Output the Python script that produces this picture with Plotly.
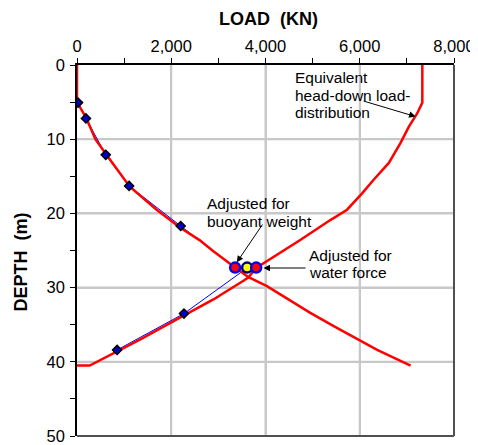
import plotly.graph_objects as go

# ---- data ----
# Red curve A: load distribution from pile head (drag load) continuing below neutral plane
curveA_load = [0, 0, 200, 390, 625, 1120, 1690, 2185, 2600, 2894, 3355, 3640, 4030, 4383, 4596, 4951, 5447, 6015, 6370, 7079]
curveA_depth = [0, 5.0, 7.2, 10.0, 12.1, 16.4, 19.5, 21.9, 23.6, 25.1, 27.3, 28.6, 29.8, 31.2, 32.1, 33.4, 35.2, 37.2, 38.4, 40.5]

# Red curve B: equivalent head-down load distribution (resistance from toe)
curveB_load = [7328, 7328, 7221, 7043, 6866, 6617, 6290, 6050, 5730, 5376, 4745, 3802, 3640, 3532, 2894, 2270, 1972, 1334, 851, 270, 0]
curveB_depth = [0, 5.07, 6.5, 8.3, 10.5, 13.2, 15.5, 17.3, 19.5, 20.9, 23.55, 27.35, 28.6, 29.07, 31.6, 33.7, 34.8, 37.0, 38.6, 40.5, 40.5]

# Blue measured points (upper and lower)
upper_load = [21, 190, 610, 1106, 2200, 3355]
upper_depth = [5.07, 7.2, 12.1, 16.3, 21.7, 27.3]
lower_load = [851, 2270, 3610]
lower_depth = [38.4, 33.5, 27.35]

# Neutral plane markers
np_load = [3355, 3610, 3802]
np_depth = [27.3, 27.3, 27.3]

x_ticks = [0, 2000, 4000, 6000, 8000]
y_ticks = [0, 10, 20, 30, 40, 50]

FONT = "Arial, Liberation Sans, sans-serif"
RED = "#ff0000"
BLUE = "#0000ff"
GRID = "#c8c8c8"

fig = go.Figure()

# gridlines at the major tick values (drawn below the data)
for xv in x_ticks[1:-1]:
    fig.add_shape(type="line", xref="x", yref="y", x0=xv, x1=xv, y0=y_ticks[0], y1=y_ticks[-1],
                  line=dict(color=GRID, width=2), layer="below")
for yv in y_ticks[1:-1]:
    fig.add_shape(type="line", xref="x", yref="y", x0=x_ticks[0], x1=x_ticks[-1], y0=yv, y1=yv,
                  line=dict(color=GRID, width=2), layer="below")

fig.add_trace(go.Scatter(x=upper_load, y=upper_depth, mode="lines",
                         line=dict(color=BLUE, width=1)))
fig.add_trace(go.Scatter(x=lower_load, y=lower_depth, mode="lines",
                         line=dict(color=BLUE, width=1)))

fig.add_trace(go.Scatter(x=curveA_load, y=curveA_depth, mode="lines",
                         line=dict(color=RED, width=2.5)))
fig.add_trace(go.Scatter(x=curveB_load, y=curveB_depth, mode="lines",
                         line=dict(color=RED, width=2.5)))

fig.add_trace(go.Scatter(x=upper_load[:-1], y=upper_depth[:-1], mode="markers",
                         marker=dict(symbol="diamond", size=7, color="#0000cc", line=dict(color="black", width=1.5))))
fig.add_trace(go.Scatter(x=lower_load[:-1], y=lower_depth[:-1], mode="markers",
                         marker=dict(symbol="diamond", size=7, color="#0000cc", line=dict(color="black", width=1.5))))

fig.add_trace(go.Scatter(x=np_load, y=np_depth, mode="lines+markers",
                         line=dict(color=RED, width=2.5),
                         marker=dict(size=10, color=[RED, "#ffff00", RED],
                                     line=dict(color=[BLUE, "#000080", BLUE], width=2.5))))

# page body adds an 8px offset, so the figure is 8px smaller and left/top margins shifted
fig.update_layout(
    width=470, height=437,
    margin=dict(l=69, r=24, t=57, b=9),
    plot_bgcolor="rgba(0,0,0,0)", paper_bgcolor="white",
    showlegend=False,
    font=dict(family=FONT, color="black", size=16),
)

fig.update_xaxes(
    side="top", range=[0, 8000], tickvals=x_ticks, tickformat=",",
    showgrid=True, gridcolor=GRID, gridwidth=2,
    showline=True, linecolor="black", linewidth=1.5,
    ticks="outside", ticklen=5, tickcolor="black",
    minor=dict(dtick=1000, ticks="outside", ticklen=5, tickcolor="black"),
    tickfont=dict(size=16.5), zeroline=False, ticklabelstandoff=0, automargin=False,
)
fig.update_yaxes(
    range=[50, 0], tickvals=y_ticks,
    showgrid=True, gridcolor=GRID, gridwidth=2,
    showline=True, linecolor="black", linewidth=1.5,
    ticks="outside", ticklen=5, tickcolor="black",
    minor=dict(dtick=5, ticks="outside", ticklen=5, tickcolor="black"),
    tickfont=dict(size=16.5), zeroline=False, ticklabelstandoff=2, automargin=False,
)

# right and bottom frame
fig.add_shape(type="line", xref="paper", yref="paper", x0=1, x1=1, y0=0, y1=1,
              line=dict(color="#505050", width=2))
fig.add_shape(type="line", xref="paper", yref="paper", x0=0, x1=1, y0=0, y1=0,
              line=dict(color="#505050", width=2))

# axis titles
fig.add_annotation(text="LOAD\u00a0\u00a0(KN)", xref="paper", yref="paper", x=0.507, y=1.125,
                   showarrow=False, font=dict(size=18, family=FONT, weight="bold"),
                   xanchor="center", yanchor="middle")
fig.add_annotation(text="DEPTH\u00a0\u00a0(m)", xref="paper", yref="paper", x=-0.149, y=0.47,
                   showarrow=False, textangle=-90, font=dict(size=18, family=FONT, weight="bold"),
                   xanchor="center", yanchor="middle")

# text labels (one annotation per line for tight line spacing)
def label(lines, x, y0, dy):
    for i, t in enumerate(lines):
        fig.add_annotation(text=t, x=x, y=y0 + i * dy, xref="x", yref="y", showarrow=False,
                           xanchor="left", yanchor="middle", font=dict(size=15.5, family=FONT))

label(["Equivalent", "head-down load-", "distribution"], 4580, 1.75, 2.35)
label(["Adjusted for", "buoyant weight"], 2715, 18.65, 2.38)
label(["Adjusted for", "water force"], 4880, 25.7, 2.25)

# arrows
def arrow(x, y, ax, ay):
    fig.add_annotation(text="", x=x, y=y, ax=ax, ay=ay, xref="x", yref="y", axref="x", ayref="y",
                       showarrow=True, arrowhead=2, arrowsize=1.3, arrowwidth=1, arrowcolor="black")

arrow(7185, 6.95, 6050, 4.8)
arrow(3391, 26.6, 3957, 21.3)
arrow(3957, 27.36, 4881, 27.36)

fig.write_html("out.html")
